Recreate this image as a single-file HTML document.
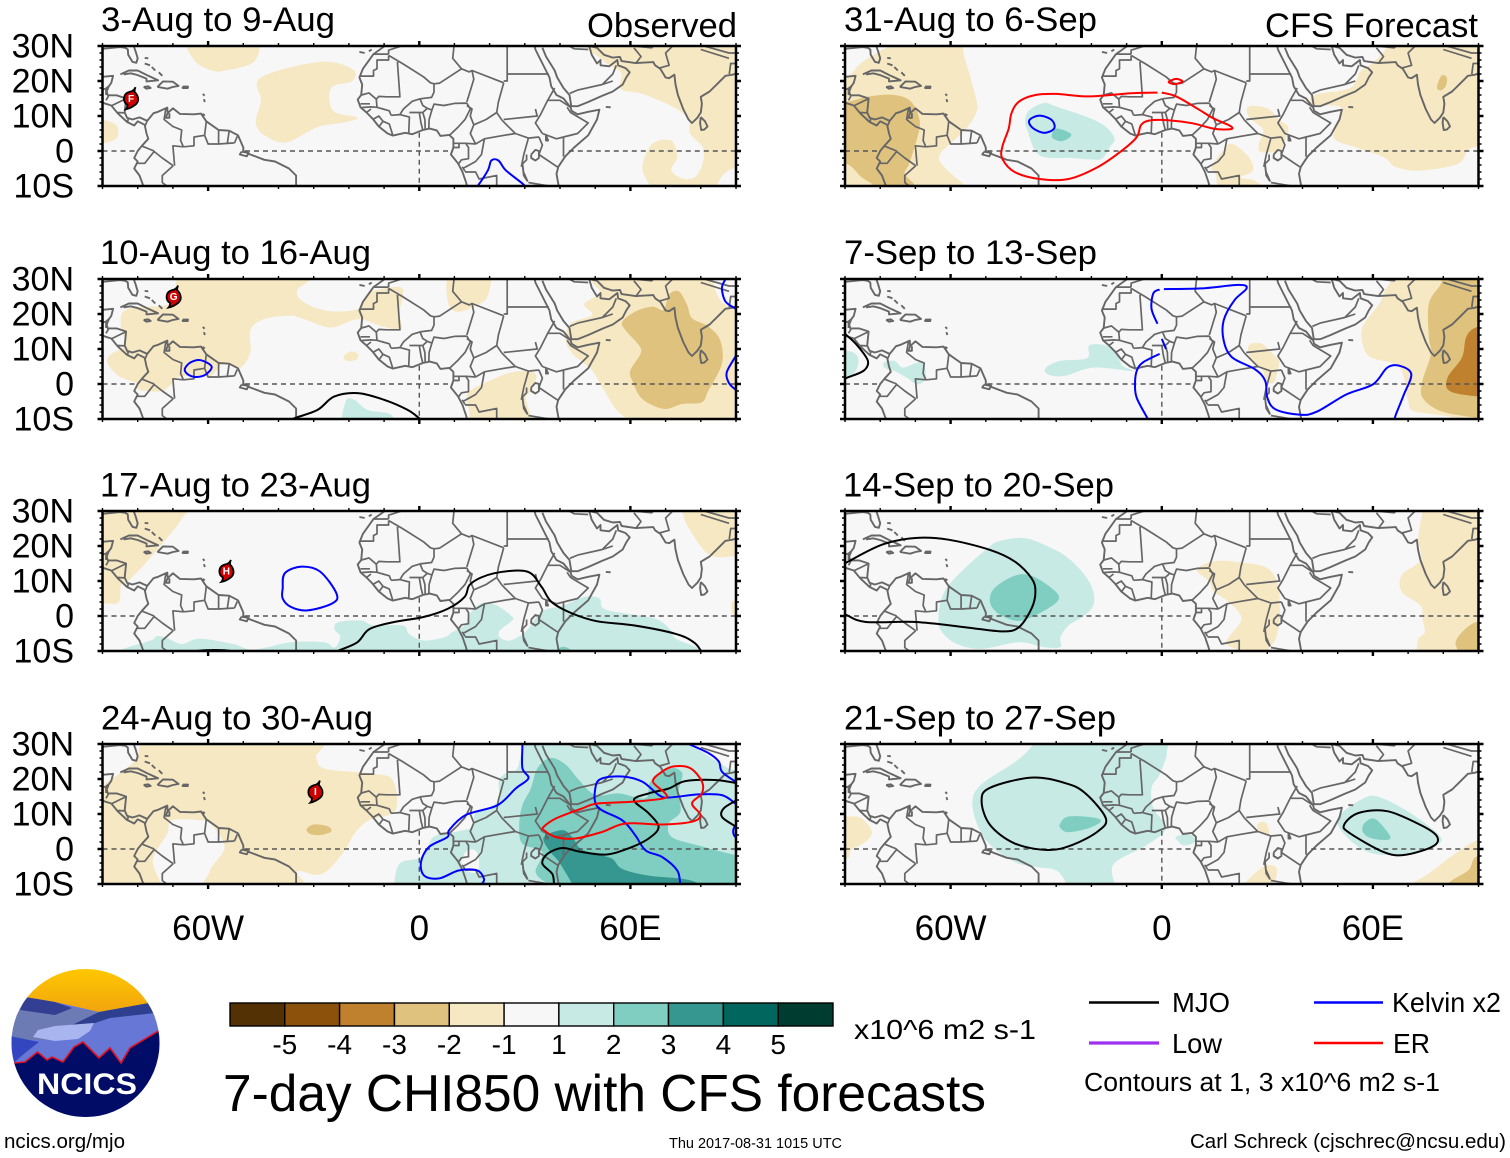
<!DOCTYPE html>
<html lang="en">
<head>
<meta charset="utf-8">
<title>7-day CHI850 with CFS forecasts</title>
<style>
html,body{margin:0;padding:0;background:#fff;}
svg{display:block;}
text{font-family:"Liberation Sans",Arial,sans-serif;fill:#000;}
</style>
</head>
<body>
<svg id="chart" xmlns="http://www.w3.org/2000/svg" width="1510" height="1158" viewBox="0 0 1510 1158">
  <rect x="0" y="0" width="1510" height="1158" fill="#ffffff"/>
  <g id="panels"></g>

  <text x="101" y="31" font-size="34.5" textLength="234" lengthAdjust="spacingAndGlyphs">3-Aug to 9-Aug</text>
  <text x="587" y="37" font-size="34" textLength="150" lengthAdjust="spacingAndGlyphs">Observed</text>
  <text x="100" y="264" font-size="34.5" textLength="271" lengthAdjust="spacingAndGlyphs">10-Aug to 16-Aug</text>
  <text x="100" y="496.5" font-size="34.5" textLength="271" lengthAdjust="spacingAndGlyphs">17-Aug to 23-Aug</text>
  <text x="101" y="729.5" font-size="34.5" textLength="272" lengthAdjust="spacingAndGlyphs">24-Aug to 30-Aug</text>
  <text x="844" y="31" font-size="34.5" textLength="253" lengthAdjust="spacingAndGlyphs">31-Aug to 6-Sep</text>
  <text x="1265" y="37" font-size="34" textLength="213" lengthAdjust="spacingAndGlyphs">CFS Forecast</text>
  <text x="844" y="264" font-size="34.5" textLength="253" lengthAdjust="spacingAndGlyphs">7-Sep to 13-Sep</text>
  <text x="843" y="496.5" font-size="34.5" textLength="271" lengthAdjust="spacingAndGlyphs">14-Sep to 20-Sep</text>
  <text x="844" y="729.5" font-size="34.5" textLength="272" lengthAdjust="spacingAndGlyphs">21-Sep to 27-Sep</text>

  <g id="colorbar"></g>
  <text x="854" y="1039" font-size="27.5" textLength="182" lengthAdjust="spacingAndGlyphs">x10^6 m2 s-1</text>
  <text x="223" y="1111" font-size="51.5" textLength="763" lengthAdjust="spacingAndGlyphs">7-day CHI850 with CFS forecasts</text>

  <g>
    <line x1="1089" y1="1002.5" x2="1159" y2="1002.5" stroke="#000" stroke-width="2.4"/>
    <text x="1172" y="1012" font-size="27.5" textLength="58" lengthAdjust="spacingAndGlyphs">MJO</text>
    <line x1="1314" y1="1002.5" x2="1383" y2="1002.5" stroke="#0000ff" stroke-width="2.4"/>
    <text x="1392" y="1012" font-size="27.5" textLength="109" lengthAdjust="spacingAndGlyphs">Kelvin x2</text>
    <line x1="1089" y1="1043" x2="1159" y2="1043" stroke="#a030f0" stroke-width="3.2"/>
    <text x="1172" y="1053" font-size="27.5" textLength="50" lengthAdjust="spacingAndGlyphs">Low</text>
    <line x1="1314" y1="1043" x2="1383" y2="1043" stroke="#ff0000" stroke-width="2.4"/>
    <text x="1393" y="1053" font-size="27.5" textLength="37" lengthAdjust="spacingAndGlyphs">ER</text>
    <text x="1084" y="1091" font-size="25.5" textLength="356" lengthAdjust="spacingAndGlyphs">Contours at 1, 3 x10^6 m2 s-1</text>
  </g>

  <g>
    <defs>
      <clipPath id="logo-clip"><circle cx="85.5" cy="1043" r="74"/></clipPath>
      <linearGradient id="sky" x1="0" y1="0" x2="0" y2="1"><stop offset="0" stop-color="#ffc800"/><stop offset="1" stop-color="#f0a010"/></linearGradient>
    </defs>
    <g clip-path="url(#logo-clip)">
      <rect x="10" y="968" width="152" height="50" fill="url(#sky)"/>
      <polygon points="5,997 25,997 55,1002 99,1012 149,1003 165,1003 165,1120 5,1120" fill="#6677d6"/>
      <polygon points="5,1020 20,1008 55,1015 72,1008 99,1012 72,1025 50,1040 5,1040" fill="#6c7bb3"/>
      <polygon points="25,997 55,1002 72,1008 55,1015 20,1010" fill="#323f92"/>
      <polygon points="149,1003 99,1012 72,1025 83,1027 110,1018 155,1013" fill="#2f3f90"/>
      <polygon points="33,1037 38,1030 55,1026 94,1023 90,1031 78,1039 55,1041" fill="#a8b5ee"/>
      <polygon points="5,1035 39,1042 25,1053 10,1066 5,1066" fill="#3346c0"/>
      <polygon points="5,1063 14,1063 25,1062 37.5,1052 47,1060 52,1057 63,1062 74,1047 83,1042 99,1058 110,1048 121,1063 130,1048 165,1027 165,1120 5,1120" fill="#000c66"/>
      <polyline points="5,1063 14,1063 25,1062 37.5,1052 47,1060 52,1057 63,1062 74,1047 83,1042 99,1058 110,1048 121,1063 130,1048 165,1027" fill="none" stroke="#e01020" stroke-width="1.6"/>
    </g>
    <text x="37" y="1094" font-size="30" font-weight="bold" textLength="100" lengthAdjust="spacingAndGlyphs" style="fill:#fff">NCICS</text>
  </g>

  <text x="4" y="1148" font-size="20.5" textLength="121" lengthAdjust="spacingAndGlyphs">ncics.org/mjo</text>
  <text x="669" y="1148" font-size="14.5" textLength="173" lengthAdjust="spacingAndGlyphs">Thu 2017-08-31 1015 UTC</text>
  <text x="1190" y="1148" font-size="20.5" textLength="316" lengthAdjust="spacingAndGlyphs">Carl Schreck (cjschrec@ncsu.edu)</text>
</svg>

<script>
// ---------- axis values ----------
const lonMajorTicks = [-60, 0, 60];
const lonMajorLabels = ['60W', '0', '60E'];
const lonMinorTicks = [-90, -80, -70, -50, -40, -30, -20, -10, 10, 20, 30, 40, 50, 70, 80, 90];
const latMajorTicks = [30, 20, 10, 0, -10];
const latMajorLabels = ['30N', '20N', '10N', '0', '10S'];
const latMinorTicks = [28, 26, 24, 22, 18, 16, 14, 12, 8, 6, 4, 2, -2, -4, -6, -8];
const equatorOceanSpans = [[-90, -80], [-49.5, 9.5], [42.5, 90]];
const primeMeridianLats = [5.2, -10];

// ---------- colorbar values ----------
const colorbarColors = ['#543005', '#8c510a', '#bf812d', '#dfc27d', '#f6e8c3', '#f7f7f7', '#c7eae5', '#80cdc1', '#35978f', '#01665e', '#003c30'];
const colorbarLabels = ['-5', '-4', '-3', '-2', '-1', '1', '2', '3', '4', '5'];
const shadeLevels = [-5, -4, -3, -2, -1, 0, 1, 2, 3, 4, 5];

// ---------- wave contour colors ----------
const waveNames = ['mjo', 'kelvin', 'er'];
const waveColors = ['#000000', '#0000ff', '#ff0000'];

// ---------- map outlines, lon/lat ----------
const coastlines = [
  [[-92,21],[-90,21.2],[-87,21.5],[-87.5,19.5],[-88.2,18.5],[-88.8,17],[-88.5,15.9],[-86,15.9],[-83.3,15],[-83.7,11],[-83,9.5],[-81.5,9],[-79.5,9.6],[-77.3,8.6],[-75.5,10.8],[-74.2,11.2],[-71.6,12.4],[-71.5,10.8],[-70,12.2],[-68,10.6],[-64,10.5],[-62,10.7],[-60.5,8.5],[-57,6],[-54,5.8],[-51.5,4.5],[-50,1],[-50,0],[-48,-1],[-44,-2.5],[-41,-3],[-37,-5],[-35,-7],[-35,-11]],
  [[-92,14.5],[-90,13.8],[-87.5,13],[-85.7,10.8],[-83,8.3],[-81,7.3],[-80,8.5],[-78,7.5],[-77.5,5],[-77,3.5],[-78.8,1.5],[-80,0],[-81,-2],[-80,-3],[-81,-5],[-79.5,-7],[-78,-11]],
  [[-90,29.2],[-85,29.7],[-83.5,29.5],[-82.8,29],[-82.7,27.5],[-81.5,25.5],[-80.4,25.2],[-80,26.5],[-80.6,28.5],[-81.3,30.5]],
  [[-9.8,31],[-9.8,30],[-13,27.7],[-16,23.5],[-17,21],[-16.2,19],[-16.5,16],[-17.5,14.7],[-16.7,12.5],[-15,11],[-13.3,9.3],[-11.5,7],[-9,5],[-7.5,4.4],[-4,5.2],[-2,4.8],[1,6],[3,6.4],[5,5.9],[6,4.3],[8.5,4.6],[9.7,3.5],[9.7,1],[9,-1],[11,-3.5],[12.3,-6],[13.3,-9],[13.8,-11]],
  [[39.8,-11],[39,-6.5],[39.5,-4.5],[41.5,-1.5],[44,1],[48,4.5],[50.5,9],[51.2,11.8],[48,11.2],[45,10.5],[43.3,11.5],[43,12.5],[41,15],[39,16],[37.5,18.5],[37,21],[35.5,24],[34,27],[33,29],[32.6,31]],
  [[35,29.5],[36,27],[38.5,23],[39.2,21],[41,18],[42.7,16],[43.2,12.8],[45,12.8],[48,14],[52,15.8],[55,17],[57.8,19],[58.8,21],[59.8,22.5],[58.6,23.7],[56.5,24.5],[56.3,26],[54,24.2],[51.5,24.5],[51.5,26],[50.5,25],[49,27.5],[48.3,30]],
  [[48.3,30],[50.5,29.5],[52.5,27.5],[55,26.7],[57,26.9],[57.5,25.7],[61.5,25.1],[66.5,25.4],[67,24.5],[68.5,23.5],[70,21],[71,20.8],[72.5,21.8],[72.8,19],[73.5,16],[75,12],[76.5,9],[77.5,8],[79,9.5],[80,11],[80.3,13.5],[80,15.5],[82.5,17],[85,19.5],[87,21.5],[89,21.8],[91,22.5]],
  [[80,9.7],[81.2,8.5],[81.9,7],[81,6.1],[80.1,6],[79.8,8],[80,9.7]],
  [[53,12.6],[54.4,12.5]],
  [[-84.9,21.9],[-82.5,23],[-80,23],[-77,21.5],[-74.2,20.2],[-77.5,19.9],[-77.5,20.7],[-80,21.7],[-82,22.2],[-84,21.9]],
  [[-74.4,18.3],[-72.8,19.9],[-70,19.8],[-68.4,18.6],[-70,18.3],[-71.5,17.8],[-74.4,18.3]],
  [[-78.3,18.3],[-77,18.5],[-76.3,18],[-77.5,17.8],[-78.3,18.3]],
  [[-67.2,18.4],[-65.7,18.4],[-65.8,18],[-67.2,18],[-67.2,18.4]],
  [[-78,26.6],[-77,26.5]],[[-78,25],[-76.5,24.5]],[[-76,24],[-75,23]],[[-74,22.5],[-73,21.5]],
  [[-61.5,16.3],[-61,15.8]],[[-61.2,14.8],[-60.9,14]],[[-61.6,10.6],[-60.9,10.2]],
  [[-17,28.3],[-15.5,28]],[[-14.3,28.5],[-13.5,29]],
  [[-50.5,-0.2],[-48.5,-0.5],[-49,-1.5],[-51,-1],[-50.5,-0.2]],
  [[-71.5,10.8],[-72,9.5],[-71,9.5],[-71,10.8]],
  [[31.8,-1],[33,0.3],[34,0],[34,-2],[33,-2.7],[31.8,-2],[31.8,-1]],
  [[29.3,-3.5],[29.7,-7],[30.7,-8.5],[29.6,-6],[29.3,-3.5]],
  [[34.3,-11],[34,-9.5],[34.8,-11]],
  [[36,4.5],[36,3],[36.6,3],[36,4.5]]
];
const borders = [
  [[-13,27.7],[-8.7,27.7]],[[-17,21.4],[-13,21.4],[-13,23],[-12,23.5],[-12,26],[-8.7,26],[-8.7,27.3]],
  [[-8.7,27.7],[-8.7,28.8],[-5,30]],
  [[-8.7,27.3],[-4.8,25],[1.2,21.2],[3.2,19.5],[4.2,19.2],[5.8,19.4],[12,23.5],[14.2,22.6],[15,23],[24,19.5]],
  [[-6.2,25.5],[-5.5,15.5],[-9.3,15.5],[-11.5,15.6],[-12.2,14.8]],
  [[-16.4,16],[-14.3,16.6],[-12.2,14.8],[-12,12.5],[-13.7,12.6],[-16.7,12.4]],[[-16.7,13.5],[-14,13.5]],
  [[-15,11],[-13.7,12]],[[-13.2,9],[-11.5,10],[-10.3,8.5],[-11.4,7]],[[-10.3,8.5],[-8.5,7.7],[-7.5,4.4]],
  [[-12,12.5],[-8.5,11.5],[-8,10.2]],[[-8,10.2],[-5.5,10.4]],[[-5.5,10.4],[-2.8,9.7],[-3,5]],
  [[-5.5,10.4],[-4.5,12],[-2,14.2],[0.2,14.9]],[[-2.8,11],[1,11],[2.3,12.2]],[[0.2,14.9],[1,13],[2.3,12.2]],
  [[0,11],[0.5,8],[1,6]],[[1,11],[1.6,9],[1.7,6.2]],[[2.7,6.4],[2.8,9],[3.6,11.7],[2.3,12.2]],
  [[3.6,11.7],[4.2,13.4],[7,13],[10,13.6],[13.5,13.7]],[[0.2,14.9],[3.5,15.3],[4.2,16.8],[4.2,19.2]],
  [[15,23],[15.5,20.5],[13.5,14]],[[13.5,13.7],[14.5,12],[13,9],[11,6.8],[8.7,4.6]],
  [[13.5,13],[15,12],[14.5,10],[15.5,7.5]],[[15.5,7.5],[19,9],[22,11]],[[24,19.5],[22.5,14],[22,11],[23.5,8.8]],
  [[15.5,7.5],[14.5,5],[16,2]],[[9.7,2.2],[13.3,2.2],[16,2]],[[9.7,1],[11.3,1],[11.3,2.2]],
  [[13.2,2.2],[14,1],[14,-2.2],[12,-2.5],[11,-3.9]],[[16,2],[18.5,3.5],[17.7,-1],[16,-3],[12.4,-5]],
  [[18.5,3.5],[22.5,4.2],[27.3,5]],[[23.5,8.8],[27.3,5]],[[24,9],[33.5,10],[33,12]],
  [[36.5,14.5],[34.5,10.5],[33,8],[35,5]],[[27.3,5],[31,3.7],[34,4]],[[34,4],[35,1.7],[34,-1]],
  [[35,5],[39,3.5],[41,4]],[[41,4],[41,-1.6]],[[41,4],[45,5],[48,8],[43,11]],
  [[36.5,14.5],[38.5,18]],[[36.5,14.5],[40,14.5],[43,12.5]],[[42,12.5],[43,11]],
  [[34,-1],[39.3,-4.6]],[[31,3.7],[29.7,-1]],[[29.7,-1],[29,-4.5]],[[30.5,-1],[30.5,-2.5],[29,-4]],
  [[13,-6],[16,-6],[17,-8],[22,-7],[22,-11]],[[31,-9],[34,-9.5],[40,-10.5]],[[12.2,-4.5],[13,-5.8]],
  [[25,22],[36.8,22]],[[25,31],[25,20],[24,20]],[[10,31],[9.5,26.5],[12,23.5]],
  [[42.8,16.5],[45,17.4],[52,19],[55,20]],[[52,19],[55,22],[56,24.5]],[[48,29],[44,29.2],[39,32]],[[48.3,30],[46,32]],
  [[61.5,25],[63,27],[61,29.5]],[[68.2,23.7],[71,24.5],[70,28],[74,32]],[[88.1,22],[88.5,25],[92,25]],[[80,29],[88,26.5]],[[78,31],[81,30],[88,28],[92,28]],[[61,30],[66,29.5],[70,33]],
  [[-92,14.5],[-90,17.8],[-91,17.2],[-89,17.9]],[[-89,16],[-89,17.9],[-88.3,18.5]],[[-89,14.5],[-88.3,15.7]],[[-87.3,13],[-83.2,15]],[[-85.7,11],[-83.7,10.9]],[[-82.9,8.2],[-82.6,9.6]],[[-77.9,7.2],[-77.3,8.6]],
  [[-72,12],[-72.5,9],[-70,7],[-67.5,6],[-67.8,3],[-67,1.2]],[[-67,1.2],[-70,1.5],[-69.5,-4.2]],[[-69.9,-4.2],[-73,-2],[-75.5,0]],[[-75.3,0],[-78.8,1.4]],[[-75.3,-0.1],[-78,-3.5],[-80.3,-3.5]],
  [[-69.9,-4.2],[-73,-7],[-73,-9],[-70.5,-11]],[[-67,1.2],[-64,1.5],[-64,4],[-61,4.5]],[[-61,4.5],[-60.5,8.5]],[[-61,4.5],[-60,2],[-57,2]],[[-57,2],[-57,6]],[[-54.5,2.3],[-54,5.8]],[[-57,2],[-52.5,2.3]],[[-52.5,2.3],[-51.7,4.2]],[[-70,-11],[-65,-10]]
];

// ---------- 3-Aug to 9-Aug ----------
const aug03Shading = [
  {level:-1, pts:[[-65,32],[-64,26],[-59,23],[-55,23],[-47,25.5],[-47,32]]},
  {level:-1, pts:[[-45,21],[-28,25.5],[-19,23.4],[-19,20],[-25,18],[-24.5,11.5],[-17.7,9.6],[-21,8.2],[-29,6.8],[-37.5,2.5],[-43,3.9],[-46.4,7.7],[-45,14.4]]},
  {level:-1, pts:[[-94,9],[-87,8],[-85.5,5.5],[-87,3],[-94,2]]},
  {level:-1, pts:[[49.8,32],[52.5,25.7],[57.3,22.4],[57.3,17.7],[63.4,16.3],[72.3,12.5],[76.4,9.1],[77,4.9],[80.5,1.1],[80.5,-3.6],[78.4,-7.4],[75,-7.9],[71.6,-5.5],[73.3,-1.8],[71.6,3],[66.2,2],[63.4,-4.6],[65.5,-10],[66,-13],[84,-13],[84.6,-10],[86.6,-6.5],[90.7,-4.6],[96,-4.5],[96,33]]}
];
const aug03Contours = [
  {wave:1, closed:false, pts:[[15.5,-11],[16.6,-10],[19.5,-5.5],[20.5,-2.7],[22.5,-2.7],[24.6,-5.5],[29.3,-9.3],[31,-11]]}
];
const aug03StormLon = -81.9, aug03StormLat = 15.1, aug03StormName = 'F';

// ---------- 10-Aug to 16-Aug ----------
const aug10Shading = [
  {level:-1, pts:[[-65.9,32],[-31.8,32],[-34.8,26.6],[-32.7,23.3],[-26.1,20.9],[-17.5,21.4],[-14.7,25.7],[-10.9,27.1],[-5.2,27.6],[-4.7,24.7],[-5.7,20.4],[-5.2,15.6],[-10.9,16.6],[-17.5,18.5],[-25.1,16.1],[-32.7,18.5],[-36.5,19.5],[-44.1,18.5],[-47.9,15.6],[-47.9,9.9],[-48.8,7],[-51.2,4.6],[-55.4,6],[-59.7,2.2],[-67.8,2.2],[-70.6,-0.2],[-73.5,-2.1],[-79.6,-1.6],[-80.6,0.3],[-85.3,2.2],[-88.6,6],[-87.7,8.4],[-83.4,11.3],[-84.8,16.6],[-82.9,21.4],[-69.7,23.3]]},
  {level:-1, pts:[[-21.5,7.8],[-19.5,9.3],[-17.3,8.5],[-18,6.9],[-20.5,6.6]]},
  {level:-1, pts:[[9,32],[19.4,32],[19.4,25],[15.6,22.1],[10.4,20.7],[8,24]]},
  {level:-1, pts:[[50.6,32],[51.5,26],[49.1,24.5],[46.8,22.6],[49.1,19.7],[43,17.3],[41.6,12.5],[43.5,8.7],[46.3,6.3],[49.1,3.9],[52,-0.9],[55.8,-7.1],[59.5,-10.5],[60,-13],[96,-13],[96,18.5],[89.3,21.7],[85.5,24],[83.2,29.8],[83,33]]},
  {level:-1, pts:[[13.7,-2.8],[18,0],[26.5,3.4],[33.1,2.9],[31.7,-1.8],[30.3,-3.8],[31.2,-7.6],[31.7,-10],[31,-13],[16,-13],[14.2,-7.6]]},
  {level:-2, pts:[[57.7,17.8],[61.4,20.7],[66.2,22.1],[69.5,21.2],[70.9,25.5],[73.7,26.5],[76.1,22.6],[77.5,18.8],[82.2,16.4],[85.5,12.5],[86,5.8],[82.2,-1.8],[80.3,-5.2],[74.7,-5.7],[69.5,-7.1],[63.3,-4.2],[60.5,1],[60,3.9],[62.9,8.7],[62.4,11.1],[58.6,15.4]]},
  {level:1, pts:[[-20.9,-5],[-18.5,-4.5],[-14.7,-7.4],[-8,-8.8],[-8,-13],[-21,-13]]}
];
const aug10Contours = [
  {wave:1, closed:true, pts:[[-66.6,4.4],[-64.9,6.2],[-62.1,6.8],[-59,5],[-60.7,2.7],[-63.5,2],[-65.9,2.9]]},
  {wave:0, closed:false, pts:[[-38,-11],[-35.5,-9.8],[-28.9,-7.4],[-24.2,-3.6],[-17.5,-2.6],[-10,-4.5],[-3.3,-7.4],[0,-9.8],[1.5,-11]]},
  {wave:1, closed:false, pts:[[91,10],[89.8,7.8],[87.4,3.4],[87.9,0.5],[89.6,-1.4],[91,-2]]},
  {wave:1, closed:false, pts:[[87.5,31.5],[87,30],[86,27.4],[87,23.6],[89.6,21.7],[91,21]]}
];
const aug10StormLon = -69.8, aug10StormLat = 25, aug10StormName = 'G';

// ---------- 17-Aug to 23-Aug ----------
const aug17Shading = [
  {level:-1, pts:[[-95,32],[-67.1,32],[-67.6,27.6],[-76.5,16.5],[-82.4,10.3],[-84.7,8.9],[-85.3,4],[-88.8,3.6],[-95,4]]},
  {level:-1, pts:[[74.7,32],[74.7,30],[76.5,25.2],[82.4,17.5],[89.4,17],[96,17],[96,33]]},
  {level:-1, pts:[[89.7,4.5],[88.8,2.5],[89.7,0],[96,0],[96,5]]},
  {level:1, pts:[[-24.1,-3.7],[-22.9,-1.7],[-16.5,-1.3],[-12.9,-2.7],[-4.7,-2.7],[-2.9,-5.1],[1.2,-7],[7.1,-6.1],[9.4,-4.6],[12.9,-2.7],[14.1,0.2],[17.6,3.6],[21.8,3.1],[26.5,-0.3],[25.9,-1.7],[22.9,-4.1],[22.9,-6.1],[25.9,-7],[30.6,-4.1],[34.7,1.2],[41.2,3.1],[47.1,5.5],[51.2,5],[52.4,2.1],[58.8,0.7],[67.1,-0.8],[71.2,-3.7],[72.9,-6.5],[79.4,-9.4],[80,-13],[-75,-13],[-75.3,-6.5],[-72.4,-6],[-67.6,-8],[-62.4,-6.5],[-52.9,-8],[-47,-9.6],[-36.5,-7.5],[-27,-7.5],[-24.1,-9],[-22.4,-6]]},
  {level:2, pts:[[39,-9.8],[41,-8.8],[43,-9.8],[41,-11]]}
];
const aug17Contours = [
  {wave:0, closed:false, pts:[[-25,-11],[-22.9,-9.9],[-17.6,-7.5],[-14.1,-3.7],[-7.1,-1.7],[1.2,-0.3],[8.2,2.1],[12.9,5.5],[14.7,9.3],[21.2,12.2],[30.6,12.7],[34.7,8.4],[37.6,4],[43.5,0.7],[50.6,-1.5],[61.2,-2.7],[72.9,-5.1],[78,-7.5],[80,-9.9],[80.5,-11]]},
  {wave:0, closed:false, pts:[[-65,-11],[-63,-10],[-58,-9.7],[-53.5,-10],[-51,-11]]},
  {wave:1, closed:true, pts:[[-38.8,7.9],[-38.2,12.2],[-33.5,14.1],[-28.2,12.7],[-23.5,6.4],[-24.7,3.6],[-31.8,1.6],[-36.5,2.6],[-38.8,5]]}
];
const aug17StormLon = -54.8, aug17StormLat = 12.9, aug17StormName = 'H';

// ---------- 24-Aug to 30-Aug ----------
const aug24Shading = [
  {level:-1, pts:[[-73.7,32],[-30,32],[-29.3,26.2],[-26.6,22.9],[-13,21.5],[-7.5,19.6],[-6.8,11],[-14.3,8.2],[-18.4,4.4],[-21.1,-0.3],[-25.9,-6],[-29.3,-7.4],[-34.8,-6.5],[-32.7,-13],[-59.8,-13],[-59.3,-6],[-55.3,0.6],[-59.3,7.3],[-62,8.2],[-70.3,8.2],[-71.6,4.4],[-75.7,-3.2],[-74.4,-13],[-96,-13],[-96,9],[-90,17.7],[-85.3,21.5],[-80.5,25.3]]},
  {level:-2, pts:[[-32,5.6],[-30,7],[-26,6.5],[-25,5],[-28,4],[-31,4.3]]},
  {level:1, pts:[[-7.2,-13],[-7.2,-10.3],[-5.5,-4.1],[0.7,-2.2],[4.1,3.5],[10.2,4.9],[15.1,6.3],[16,10.2],[22.2,13.5],[22.7,19.7],[25.5,22.1],[27.9,23.1],[29.3,30],[29,33],[77.5,33],[77.5,30],[84.6,25],[89.3,22.6],[96,22],[96,-13]]},
  {level:0, pts:[[12,-4],[13.5,-0.5],[16,-0.5],[17,-3.5],[16.5,-6.5],[14,-6.5]]},
  {level:2, pts:[[33.6,23.1],[37.3,26],[41.6,24.1],[45.4,19.7],[50.1,15.4],[56.7,15.9],[64.3,14.5],[65.7,19.3],[70.9,23.1],[74.7,21.7],[73.7,16.4],[74.2,10.6],[70.9,7.3],[71.8,3.4],[79.4,1],[90.3,-1.8],[96,-2],[96,-13],[45,-13],[36.9,-10],[33.1,-6.6],[35,-0.9],[29.3,1.5],[28.4,6.8],[29.3,12.5],[31.7,17.3]]},
  {level:3, pts:[[35.4,3.4],[40.6,5.4],[43.5,3.4],[45.8,0.1],[50.1,-1.4],[54.8,-2.8],[57.7,-5.7],[65.2,-7.6],[74.7,-8.5],[79.4,-10],[80,-13],[45,-13],[43.5,-10],[39.7,-3.7],[36.9,-0.4]]}
];
const aug24Contours = [
  {wave:1, closed:false, pts:[[28.9,31.5],[29.3,30],[29.3,23.1],[31,20.2],[27.4,17.3],[22.2,12.5],[13.2,9.7],[8.5,5.4],[8,3.4],[2.8,0.6],[0.5,-3.7],[1.4,-7.6],[5.7,-8.4],[11.3,-6.1],[16.5,-6.1],[18.4,-8.5],[17.8,-10],[17,-11]]},
  {wave:1, closed:false, pts:[[75,-11],[74.2,-10],[73.3,-6.1],[69,-2.3],[64.3,-0.4],[61.4,3.9],[57.7,8.2],[50.6,12.1],[50.1,17.8],[52,20.2],[57.7,20.7],[63.3,19.3],[68.1,15.4],[70.9,14.7],[79.4,15.6],[86,15.4],[89.8,13],[91,12]]},
  {wave:1, closed:false, pts:[[75,31],[76.6,30],[82.2,27.4],[85.1,25],[86,22.1],[89.8,19.3],[91,19]]},
  {wave:1, closed:false, pts:[[91,8],[89.4,6],[89.4,4],[90.5,3]]},
  {wave:0, closed:false, pts:[[38.5,-11],[38.3,-10],[37.8,-7.1],[35,-4.2],[36.4,-1.4],[40.6,0.3],[45.4,-0.7],[52.9,-1.6],[59.5,0.2],[65.2,3],[68,6.3],[65.2,10.2],[61,14],[65.2,15.9],[70.9,17.3],[75.6,19.4],[84.1,19.7],[90.3,18.8]]},
  {wave:0, closed:false, pts:[[91,14.5],[90.3,14],[86.5,11.6],[86,9.2],[89.3,6.8],[91,6]]},
  {wave:2, closed:true, pts:[[35.3,6.3],[38.8,8.7],[46.3,11.6],[50.6,13],[60.5,13.5],[69.5,14.5],[69.9,15.9],[66.4,19.3],[69,22.1],[72.3,23.6],[77,23.1],[80.3,19.3],[80.3,15.9],[77.5,13],[79.9,9.7],[77.5,7.8],[69,7],[58.6,7.3],[52,4.9],[44.4,3],[38.8,3.4],[35.4,5.4]]}
];
const aug24StormLon = -29.5, aug24StormLat = 16.4, aug24StormName = 'I';

// ---------- 31-Aug to 6-Sep ----------
const aug31Shading = [
  {level:-1, pts:[[-95,22],[-89.4,21.3],[-85.3,25.2],[-78.2,29.5],[-70,32],[-58.2,32],[-55.9,26.2],[-52.9,15.6],[-52.6,11.3],[-55.9,6],[-62.9,-0.8],[-61.8,-4.6],[-55.9,-10],[-56,-13],[-96,-13]]},
  {level:-2, pts:[[-89.4,14.1],[-83,15.6],[-75.9,16],[-71.2,14.1],[-68.8,8.8],[-69.4,4],[-71.8,-3.7],[-73,-6.5],[-70,-10],[-70,-13],[-82,-13],[-81.8,-10],[-85.3,-7.5],[-89.4,-3.7],[-96,-3],[-96,14]]},
  {level:-1, pts:[[65.9,32],[60.6,25.7],[56.5,22.8],[53.5,18],[43.5,16],[43,13.2],[51.2,12.2],[48.8,4],[54.7,1.2],[62.9,-1.7],[66.5,-4.6],[73.5,-5.6],[84.1,-3.7],[87,0.2],[90,1.2],[96,1],[96,33],[66,33]]},
  {level:-2, pts:[[78.2,18.3],[79.5,21.5],[81,21],[80.7,18.5],[79.2,17.3]]},
  {level:-1, pts:[[24.7,12.7],[30,12.2],[33.5,8.8],[35.9,7],[35.3,4],[33.5,0.2],[28.2,-0.3],[27.6,2.1],[28.8,6],[24.7,9.8]]},
  {level:-1, pts:[[17.6,0.2],[20,2.1],[24.7,-1.7],[25.9,-5.6],[22.4,-7.5],[26.5,-8.5],[27.6,-10.5],[17,-10.5],[15.3,-6.5],[14.1,-4.6],[16.5,-1]]},
  {level:1, pts:[[-33.5,13.7],[-30,12.7],[-18.2,8.4],[-13.5,4],[-14.7,1.2],[-17,-2.2],[-20.6,-2.4],[-25.3,-2],[-34.7,-1.2],[-38.2,6],[-38.8,8.8],[-37.6,11.7]]},
  {level:2, pts:[[-30,6.4],[-25.9,5],[-26.5,3.6],[-28.8,2.8],[-31.2,4]]}
];
const aug31Contours = [
  {wave:2, closed:false, pts:[[-1.2,16.7],[-8.8,16.5],[-20.6,15.6],[-30,16.3],[-35.9,16],[-40.6,14.1],[-42.7,10.8],[-43.5,6.4],[-45.3,1.2],[-45.3,-2.2],[-41.8,-6],[-34.7,-8],[-26.5,-8],[-18.2,-4.6],[-11.2,0.2],[-7.1,4],[-5.9,7.4],[-3.5,8.7],[1.8,8.8],[8.8,7.9],[14.7,6.4],[19.4,6.2],[19.6,7.1],[14.7,9.3],[10,12.2],[4.1,15.6],[0,16.7]]},
  {wave:2, closed:true, pts:[[2.1,19.9],[4.1,20.6],[5.9,19.9],[3.9,19.1],[2.4,19.4]]},
  {wave:1, closed:true, pts:[[-37.6,8.8],[-34.7,10.1],[-31.2,8.8],[-30.6,6.4],[-33.5,5.2],[-36.8,6.7]]}
];

// ---------- 7-Sep to 13-Sep ----------
const sep07Shading = [
  {level:1, pts:[[-96,10],[-89.4,9.5],[-86.5,8],[-86.5,4.7],[-89.4,1.8],[-96,2]]},
  {level:1, pts:[[-78.8,6.2],[-75.9,6.6],[-73.5,4.7],[-68.2,6.2],[-67.1,1.8],[-69.4,-0.1],[-72.4,1.8],[-75.9,3.7],[-78.8,4.7]]},
  {level:1, pts:[[-32.9,4.7],[-28.8,6.6],[-21.2,7.4],[-20.6,11],[-15.9,11],[-12.9,8.6],[-11.2,5.2],[-8.2,3.7],[-19.4,4.7],[-27.6,2.3],[-32.4,2.8]]},
  {level:-1, pts:[[24.7,11],[28.2,11.6],[31.2,9],[33.3,6.6],[33,4.2],[31.8,0.4],[29.4,0.9],[28.8,3.8],[25.3,7.1]]},
  {level:-1, pts:[[67.6,32],[64.1,27.8],[61.8,23],[57.1,16.3],[57.1,11.4],[59.4,7.6],[67.6,4.7],[70,-4.9],[71.8,-7.8],[83,-9.7],[83,-13],[96,-13],[96,33],[68,33]]},
  {level:-2, pts:[[80,32],[79.4,28.7],[75.9,23],[75.9,13.3],[76.5,8.6],[74.1,0.9],[74.1,-3.9],[79.4,-7.8],[89.4,-9.7],[96,-11],[96,32]]},
  {level:-3, pts:[[89.4,16.2],[86.5,13.4],[85.3,7.6],[81.2,1.8],[81.8,-2],[89.4,-3.5],[96,-3.5],[96,17]]}
];
const sep07Contours = [
  {wave:0, closed:false, pts:[[-91,15],[-89.4,13.8],[-86.5,11],[-83.5,6.6],[-84.7,3.8],[-89.4,1.8],[-91,1]]},
  {wave:1, closed:false, pts:[[-3.5,-11],[-4.1,-9.7],[-7.1,-4],[-7.6,-0.1],[-7.1,3.8],[-5.3,6.2],[-0.6,8.6]]},
  {wave:1, closed:false, pts:[[0,12.9],[1.2,10]]},
  {wave:1, closed:false, pts:[[-1.2,17.2],[-2.9,21.5],[-2.4,25.9],[-0.6,27]]},
  {wave:1, closed:false, pts:[[0.6,27.1],[11.2,27.3],[21.8,28.3],[24.1,27.3],[20.6,23.9],[17.6,18.2],[17.6,12.4],[20,7.6],[26.5,4.2],[29.4,0.9],[30,-3.9],[32.4,-7.3],[39.4,-8.8],[44.1,-7.9],[52.4,-3],[60,-0.1],[64.1,4.7],[67.6,5.2],[70.9,2.8],[68.8,-3],[66.5,-8.8],[65.9,-11]]}
];

// ---------- 14-Sep to 20-Sep ----------
const sep14Shading = [
  {level:1, pts:[[-49.4,19.4],[-46.5,21.3],[-39.4,22.3],[-33.5,20.4],[-26.5,16.5],[-20.6,9.8],[-19.2,4],[-21.8,0.2],[-26.5,-2.7],[-28.8,-6.1],[-28.8,-8.9],[-33.5,-8.9],[-40.6,-7.5],[-51.2,-9.4],[-58.2,-8],[-62.4,-4.6],[-63.5,-0.8],[-61.8,6.9],[-55.9,13.7]]},
  {level:2, pts:[[-41.8,11.5],[-37,11.5],[-31.2,7.9],[-29.2,5],[-32.4,2.1],[-38.2,-0.8],[-41.8,-1.3],[-46.5,0.7],[-48.8,4],[-47.6,7.9]]},
  {level:-1, pts:[[10,13.2],[14.7,15.6],[21.8,15.4],[30,13.7],[33,8.8],[33.5,3],[33.5,-0.8],[32.4,-6.5],[30,-10],[30,-13],[21.8,-13],[21.8,-10],[18.3,-7.5],[22.4,-1.7],[21.8,1.2],[18.3,4.6],[14.7,7],[13.5,9.8]]},
  {level:-1, pts:[[74.1,33],[74.1,30],[72.9,22.3],[73.5,16],[68.2,11.7],[68.2,6.9],[73.5,3],[74.1,-0.8],[74.7,-4.6],[72.9,-6.5],[72.4,-10],[72,-13],[96,-13],[96,33]]},
  {level:-2, pts:[[89.4,-1.7],[85.3,-4.6],[83.5,-7.5],[84.1,-10],[84,-13],[96,-13],[96,-1.5]]}
];
const sep14Contours = [
  {wave:0, closed:false, pts:[[-91,14.5],[-89.4,15.4],[-79.4,20.4],[-70,22.3],[-60.6,21.8],[-48.8,18.9],[-41.8,15.6],[-37,10.8],[-35.9,6.9],[-37,2.1],[-40.6,-3.2],[-45.3,-4.4],[-55.9,-3.2],[-70,-1.7],[-84.1,-1.7],[-89.4,0.2],[-91,1]]}
];

// ---------- 21-Sep to 27-Sep ----------
const sep21Shading = [
  {level:1, pts:[[-36.5,33],[-36.5,30],[-41.2,25.2],[-51.2,18.5],[-53.8,13.7],[-52.4,6.9],[-48.8,1.2],[-41.8,-3.7],[-35.9,-5.1],[-30,-6.1],[-27.1,-10],[-27,-13],[-13.5,-13],[-13.5,-10],[-13.5,-4.1],[-4.1,1.2],[1.2,6],[-2.4,11.7],[-2.9,17.5],[-0.6,21.3],[1.5,28.1],[-1.2,33]]},
  {level:1, pts:[[4.1,3.6],[8.2,4],[9.4,2.1],[6.5,1],[4.7,2.1]]},
  {level:2, pts:[[-28.8,7.4],[-26.5,9.3],[-19.4,9],[-17.3,7.9],[-20.6,6],[-26.5,4.8],[-28.8,6]]},
  {level:1, pts:[[50,8.8],[57.6,14.6],[62.4,14.6],[70.6,10.3],[78.8,4],[78.2,1.2],[70.6,-1.3],[60,-1.3],[52.9,3.1]]},
  {level:2, pts:[[57.6,7.4],[60.6,8.6],[64.7,4],[64.1,2.6],[59.4,3.1],[57.1,5]]},
  {level:-1, pts:[[-96,9],[-89.4,9.3],[-85.3,8.8],[-82.4,5],[-84.1,2.1],[-88.2,-0.3],[-89.4,-2.7],[-96,-3]]},
  {level:-1, pts:[[27.1,6.9],[29.4,7.7],[30.6,4.5],[28.2,4.5]]},
  {level:-1, pts:[[23.5,-10],[28.8,-5.1],[32.4,-5.1],[32.4,-8.5],[31.2,-10],[31,-13],[23,-13]]},
  {level:-1, pts:[[71.2,-10],[75.9,-7],[84.1,-0.8],[90,2.6],[96,3],[96,-13],[71,-13]]},
  {level:-2, pts:[[81.8,-9.5],[87.1,-6.1],[89.4,-2.2],[96,-2],[96,-13],[81,-13]]}
];
const sep21Contours = [
  {wave:0, closed:true, pts:[[-51.2,13.7],[-48.8,17.5],[-37,20.4],[-27.6,18.9],[-21.8,16],[-15.9,8.8],[-18.2,5],[-25.3,1.2],[-32.4,-0.3],[-41.8,1.6],[-48.8,6.9]]},
  {wave:0, closed:true, pts:[[51.8,6.9],[55.9,10.3],[64.1,10.8],[73.5,6.9],[78.2,3.6],[77,0.7],[68.8,-1.7],[62.9,-0.8],[53.5,4.5]]}
];

// ---------- panel list ----------
const panelShadings = [aug03Shading, aug10Shading, aug17Shading, aug24Shading, aug31Shading, sep07Shading, sep14Shading, sep21Shading];
const panelContours = [aug03Contours, aug10Contours, aug17Contours, aug24Contours, aug31Contours, sep07Contours, sep14Contours, sep21Contours];
const panelNames = ['aug-03', 'aug-10', 'aug-17', 'aug-24', 'aug-31', 'sep-07', 'sep-14', 'sep-21'];
const stormLons = [aug03StormLon, aug10StormLon, aug17StormLon, aug24StormLon];
const stormLats = [aug03StormLat, aug10StormLat, aug17StormLat, aug24StormLat];
const stormNames = [aug03StormName, aug10StormName, aug17StormName, aug24StormName];

// ---------- drawing ----------
const SVGNS = 'http://www.w3.org/2000/svg';
function make(parent, tag, attrs) {
  const el = document.createElementNS(SVGNS, tag);
  for (const k in attrs) el.setAttribute(k, attrs[k]);
  parent.appendChild(el);
  return el;
}
const PANEL_W = 633.5, PANEL_H = 140;
const columnLeft = i => i < 4 ? 102.5 : 845;
const rowTops = [46, 279, 511, 744];
const lonScale = (lon, left) => left + (lon + 90) / 180 * PANEL_W;
const latScale = (lat, top) => top + (30 - lat) / 40 * PANEL_H;

function linearPath(points, left, top) {
  return points.map((p, i) => (i ? 'L' : 'M') + lonScale(p[0], left).toFixed(1) + ' ' + latScale(p[1], top).toFixed(1)).join(' ');
}
function smoothPath(points, left, top, closed) {
  const xy = points.map(p => [lonScale(p[0], left), latScale(p[1], top)]);
  const n = xy.length;
  const at = i => closed ? xy[(i + n) % n] : xy[Math.max(0, Math.min(n - 1, i))];
  let d = 'M' + xy[0][0].toFixed(1) + ' ' + xy[0][1].toFixed(1);
  const last = closed ? n : n - 1;
  for (let i = 0; i < last; i++) {
    const a = at(i - 1), b = at(i), c = at(i + 1), e = at(i + 2);
    const c1x = b[0] + (c[0] - a[0]) / 6, c1y = b[1] + (c[1] - a[1]) / 6;
    const c2x = c[0] - (e[0] - b[0]) / 6, c2y = c[1] - (e[1] - b[1]) / 6;
    d += ' C' + c1x.toFixed(1) + ' ' + c1y.toFixed(1) + ' ' + c2x.toFixed(1) + ' ' + c2y.toFixed(1) + ' ' + c[0].toFixed(1) + ' ' + c[1].toFixed(1);
  }
  return closed ? d + ' Z' : d;
}

const panelsRoot = document.getElementById('panels');
const defs = make(panelsRoot, 'defs', {});
const STORM_BODY = 'M4.5 -11 C3.5 -8.5 1.5 -7 -1 -6.5 C-5 -5.5 -7 -3 -7 0.5 C-7 3.5 -5.5 5.5 -3.5 6.5 C-3.5 8 -4 10 -5 11 C-2 10.5 2 8.5 5 6 C7 4 7.5 2 7 -0.5 C6.5 -3 5 -5 3.5 -6.5 C3.5 -8 4 -10 4.5 -11 Z';

panelNames.forEach(function (name, idx) {
  const left = columnLeft(idx), top = rowTops[idx % 4];
  const clip = make(defs, 'clipPath', {id: 'clip-' + name});
  make(clip, 'rect', {x: left, y: top, width: PANEL_W, height: PANEL_H});

  const panel = make(panelsRoot, 'g', {});
  
  

  const background = make(panel, 'rect', {x: left, y: top, width: PANEL_W, height: PANEL_H, fill: '#f7f7f7'});
  
  

  const clipped = make(panel, 'g', {'clip-path': 'url(#clip-' + name + ')'});
  
  

  panelShadings[idx].forEach(function (shape) {
    const colorIndex = shadeLevels.indexOf(shape.level);
    const area = make(clipped, 'path', {d: smoothPath(shape.pts, left, top, true), fill: colorbarColors[colorIndex]});
    
    
  });

  const coast = make(clipped, 'path', {d: coastlines.map(l => linearPath(l, left, top)).join(' '), fill: 'none', stroke: '#666666', 'stroke-width': 1.9, 'stroke-linejoin': 'round'});
  
  

  const border = make(clipped, 'path', {d: borders.map(l => linearPath(l, left, top)).join(' '), fill: 'none', stroke: '#666666', 'stroke-width': 1.7, 'stroke-linejoin': 'round'});
  
  

  const equator = make(clipped, 'path', {d: equatorOceanSpans.map(s => linearPath([[s[0], 0], [s[1], 0]], left, top)).join(' '), fill: 'none', stroke: '#555555', 'stroke-width': 1.4, 'stroke-dasharray': '5 4'});
  
  

  const meridian = make(clipped, 'path', {d: linearPath(primeMeridianLats.map(la => [0, la]), left, top), fill: 'none', stroke: '#555555', 'stroke-width': 1.4, 'stroke-dasharray': '5 4'});
  
  

  panelContours[idx].forEach(function (contour) {
    const line = make(clipped, 'path', {d: smoothPath(contour.pts, left, top, contour.closed), fill: 'none', stroke: waveColors[contour.wave], 'stroke-width': 2, 'stroke-linejoin': 'round'});
    
    
  });

  if (idx < stormNames.length) {
    const sx = lonScale(stormLons[idx], left), sy = latScale(stormLats[idx], top);
    const storm = make(panel, 'g', {transform: 'translate(' + sx.toFixed(1) + ' ' + sy.toFixed(1) + ')'});
    
    
    const body = make(storm, 'path', {d: STORM_BODY, fill: '#d00000', stroke: '#000', 'stroke-width': 1.8});
    
    
    const letter = make(storm, 'text', {x: 0, y: 3.6, 'font-size': 10, 'font-weight': 'bold', 'text-anchor': 'middle', style: 'fill:#fff'});
    
    
    letter.textContent = stormNames[idx];
  }

  const frame = make(panel, 'rect', {x: left, y: top, width: PANEL_W, height: PANEL_H, fill: 'none', stroke: '#000', 'stroke-width': 2.5});
  
  

  let major = '', minor = '';
  const right = left + PANEL_W, bottom = top + PANEL_H;
  lonMajorTicks.forEach(function (lon) {
    const x = lonScale(lon, left).toFixed(1);
    major += 'M' + x + ' ' + (top - 5) + 'V' + top + 'M' + x + ' ' + bottom + 'V' + (bottom + 5);
  });
  lonMinorTicks.forEach(function (lon) {
    const x = lonScale(lon, left).toFixed(1);
    minor += 'M' + x + ' ' + (top - 3) + 'V' + top + 'M' + x + ' ' + bottom + 'V' + (bottom + 3);
  });
  latMajorTicks.forEach(function (lat) {
    const y = latScale(lat, top).toFixed(1);
    major += 'M' + (left - 5) + ' ' + y + 'H' + left + 'M' + right + ' ' + y + 'H' + (right + 5);
  });
  latMinorTicks.forEach(function (lat) {
    const y = latScale(lat, top).toFixed(1);
    minor += 'M' + (left - 3) + ' ' + y + 'H' + left + 'M' + right + ' ' + y + 'H' + (right + 3);
  });
  const majorPath = make(panel, 'path', {d: major, stroke: '#000', 'stroke-width': 2.4, fill: 'none'});
  
  
  const minorPath = make(panel, 'path', {d: minor, stroke: '#000', 'stroke-width': 1.4, fill: 'none'});
  
  

  if (idx < 4) {
    latMajorTicks.forEach(function (lat, i) {
      const label = make(panel, 'text', {x: 74, y: (latScale(lat, top) + 11.5).toFixed(1), 'font-size': 34, 'text-anchor': 'end'});
      
      
      label.textContent = latMajorLabels[i];
    });
  }
  if (idx % 4 === 3) {
    lonMajorTicks.forEach(function (lon, i) {
      const label = make(panel, 'text', {x: lonScale(lon, left).toFixed(1), y: bottom + 56, 'font-size': 35, 'text-anchor': 'middle'});
      
      
      label.textContent = lonMajorLabels[i];
    });
  }
});

// ---------- colorbar ----------
const colorbarRoot = document.getElementById('colorbar');
const CB_LEFT = 230, CB_TOP = 1003, CB_H = 23, CB_W = 603;
const cbScale = i => CB_LEFT + i * CB_W / colorbarColors.length;
colorbarColors.forEach(function (color, i) {
  const box = make(colorbarRoot, 'rect', {x: cbScale(i).toFixed(1), y: CB_TOP, width: (CB_W / colorbarColors.length).toFixed(1), height: CB_H, fill: color, stroke: '#000', 'stroke-width': 1.4});
  
  
});
colorbarLabels.forEach(function (value, i) {
  const tick = make(colorbarRoot, 'text', {x: cbScale(i + 1).toFixed(1), y: 1054, 'font-size': 28, 'text-anchor': 'middle'});
  
  
  tick.textContent = value;
});
</script>
</body>
</html>
